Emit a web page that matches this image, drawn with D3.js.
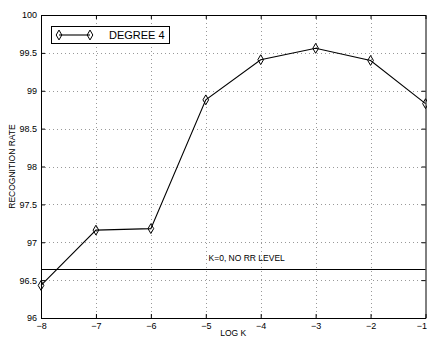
<!DOCTYPE html>
<html>
<head>
<meta charset="utf-8">
<script src="https://d3js.org/d3.v7.min.js"></script>
<style>
  html, body { margin: 0; padding: 0; background: #fff; }
  svg { display: block; font-family: "Liberation Sans", Arial, sans-serif; }
</style>
</head>
<body>
<svg id="chart" width="427" height="339"></svg>
<script>
// data
const logK = [-8, -7, -6, -5, -4, -3, -2, -1];
const degree4 = [96.43, 97.16, 97.18, 98.88, 99.41, 99.56, 99.40, 98.83];
const noRRLevel = 96.64;
const xTicks = [-8, -7, -6, -5, -4, -3, -2, -1];
const yTicks = [96, 96.5, 97, 97.5, 98, 98.5, 99, 99.5, 100];

const W = 427, H = 339;
const margin = { left: 41, right: 1.5, top: 15, bottom: 21 };
const svg = d3.select('#chart');

const x = d3.scaleLinear().domain([-8, -1]).range([margin.left, W - margin.right]);
const y = d3.scaleLinear().domain([96, 100]).range([H - margin.bottom, margin.top]);

// dotted grid
const grid = svg.append('g').attr('stroke', '#999').attr('stroke-width', 1)
    .attr('stroke-dasharray', '1,3');
grid.selectAll('.gx').data(xTicks.slice(1, -1)).join('line')
    .attr('x1', d => Math.round(x(d)) + 0.5).attr('x2', d => Math.round(x(d)) + 0.5)
    .attr('y1', y(100)).attr('y2', y(96));
grid.selectAll('.gy').data(yTicks.slice(1, -1)).join('line')
    .attr('y1', d => Math.round(y(d)) + 0.5).attr('y2', d => Math.round(y(d)) + 0.5)
    .attr('x1', x(-8)).attr('x2', x(-1));

// axes (MATLAB style: ticks inside, labels outside)
const xAxis = d3.axisBottom(x).tickValues(xTicks).tickSizeInner(-4).tickSizeOuter(0)
    .tickPadding(5).tickFormat(d => d3.format('d')(d).replace('-', '\u2212'));
const yAxis = d3.axisLeft(y).tickValues(yTicks).tickSizeInner(-4).tickSizeOuter(0)
    .tickPadding(4).tickFormat(d => d);

const gx = svg.append('g').attr('transform', `translate(0,${y(96)})`).call(xAxis);
const gy = svg.append('g').attr('transform', `translate(${x(-8)},0)`).call(yAxis);
svg.append('g').attr('transform', `translate(0,${y(100)})`)
    .call(d3.axisTop(x).tickValues(xTicks).tickSizeInner(-4).tickSizeOuter(0).tickFormat(''));
svg.append('g').attr('transform', `translate(${x(-1)},0)`)
    .call(d3.axisRight(y).tickValues(yTicks).tickSizeInner(-4).tickSizeOuter(0).tickFormat(''));

svg.selectAll('.domain').attr('stroke', '#000').attr('stroke-width', 1);
svg.selectAll('.tick line').attr('stroke', '#000');
svg.selectAll('.tick text').attr('font-size', 9).attr('fill', '#000')
    .attr('font-family', '"Liberation Sans", Arial, sans-serif');
// last x label sits at the window edge: keep it inside
gx.selectAll('.tick text').filter(d => d === -1)
    .attr('text-anchor', 'end').attr('dx', W - x(-1) - 0.5);

// horizontal reference line
svg.append('line')
    .attr('x1', x(-8)).attr('x2', x(-1))
    .attr('y1', y(noRRLevel)).attr('y2', y(noRRLevel))
    .attr('stroke', '#000').attr('stroke-width', 1.2);
svg.append('text')
    .attr('x', x(-4.95)).attr('y', y(noRRLevel) - 9)
    .attr('font-size', 8.5).text('K=0, NO RR LEVEL');

// series
const pts = logK.map((k, i) => [k, degree4[i]]);
svg.append('path').datum(pts)
    .attr('fill', 'none').attr('stroke', '#000').attr('stroke-width', 1.1)
    .attr('d', d3.line().x(d => x(d[0])).y(d => y(d[1])));

const diamond = d3.symbol().type(d3.symbolDiamond).size(28);
svg.selectAll('.pt').data(pts).join('path')
    .attr('transform', d => `translate(${x(d[0])},${y(d[1])})`)
    .attr('d', diamond)
    .attr('fill', 'none').attr('stroke', '#000').attr('stroke-width', 1);

// legend
const lg = svg.append('g');
lg.append('rect').attr('x', 51.5).attr('y', 26.5).attr('width', 118).attr('height', 17)
    .attr('fill', '#fff').attr('stroke', '#000').attr('stroke-width', 1);
lg.append('line').attr('x1', 59).attr('x2', 90).attr('y1', 35).attr('y2', 35)
    .attr('stroke', '#000').attr('stroke-width', 1.1);
[59, 90].forEach(px => lg.append('path').attr('transform', `translate(${px},35)`)
    .attr('d', diamond).attr('fill', 'none').attr('stroke', '#000'));
lg.append('text').attr('x', 109).attr('y', 39).attr('font-size', 11).text('DEGREE 4');

// axis labels
svg.append('text').attr('x', (x(-8) + x(-1)) / 2).attr('y', 336)
    .attr('text-anchor', 'middle').attr('font-size', 8.5).text('LOG K');
svg.append('text').attr('transform', `translate(15,${(y(96) + y(100)) / 2}) rotate(-90)`)
    .attr('text-anchor', 'middle').attr('font-size', 8.5).text('RECOGNITION RATE');
</script>
</body>
</html>
